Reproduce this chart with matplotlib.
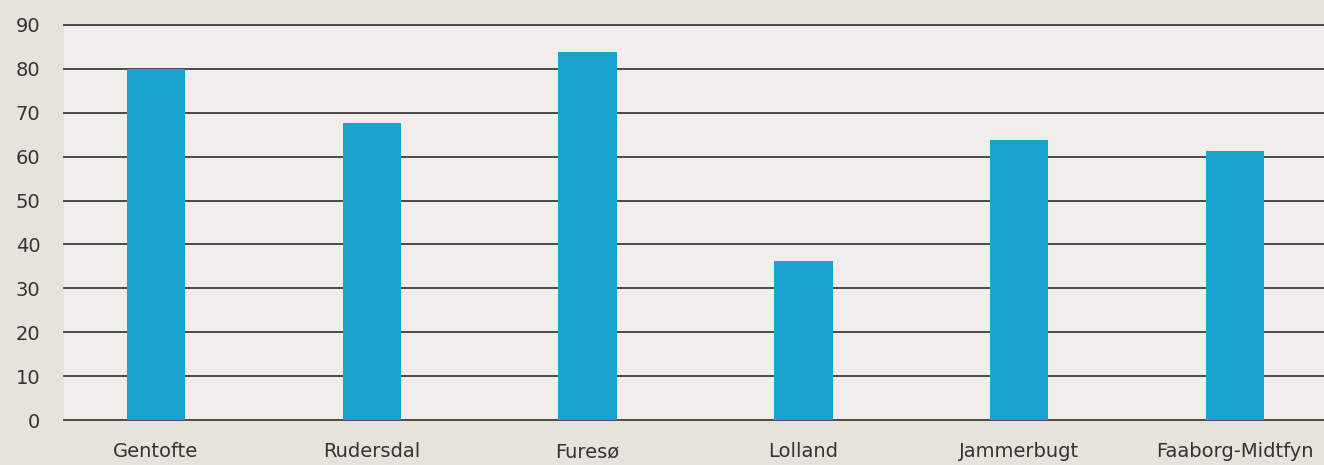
import matplotlib
matplotlib.use("Agg")
import matplotlib.pyplot as plt

categories = ["Gentofte", "Rudersdal", "Furesø", "Lolland", "Jammerbugt", "Faaborg-Midtfyn"]
values = [80.0, 67.7, 83.8, 36.3, 63.8, 61.3]
yticks = [0, 10, 20, 30, 40, 50, 60, 70, 80, 90]

plt.rcParams['font.family'] = ['DejaVu Sans']

fig = plt.figure(figsize=(13.24, 4.65), dpi=100)
fig.patch.set_facecolor('#e6e3dd')
ax = fig.add_axes([64/1324, 45/465, 1 - 64/1324, 395/465])
ax.set_facecolor('#efeeeb')

x = list(range(len(categories)))
ax.bar(x, values, width=0.27, color='#1aa3cc', zorder=3)

ax.set_ylim(0, 90)
ax.set_xlim(-0.426, 5.412)
ax.set_yticks(yticks)
ax.set_yticklabels([str(t) for t in yticks], fontsize=14, color='#333333')
ax.set_xticks(x)
ax.set_xticklabels(categories, fontsize=14, color='#333333')
ax.tick_params(axis='both', length=0)
ax.tick_params(axis='y', pad=17)
ax.tick_params(axis='x', pad=16)
for lbl in ax.get_yticklabels():
    lbl.set_horizontalalignment('right')
ax.yaxis.grid(True, color='#4a4a4a', linewidth=1.4, zorder=1)
for gl in ax.get_ygridlines():
    gl.set_clip_on(False)
for s in ax.spines.values():
    s.set_visible(False)

fig.savefig('out.png', dpi=100, facecolor=fig.get_facecolor())
